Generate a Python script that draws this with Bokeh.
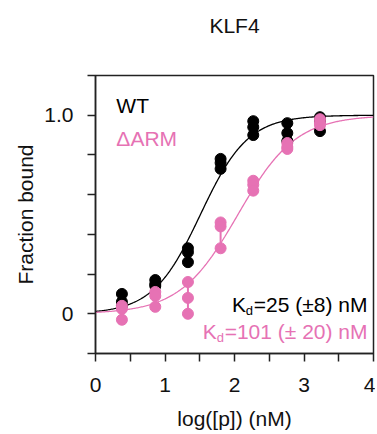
import numpy as np
from bokeh.plotting import figure
from bokeh.models import FixedTicker, Label, Range1d, Title
from bokeh.embed import file_html
from bokeh.resources import INLINE

# ---------------- data ----------------
log_conc = [0.38, 0.86, 1.33, 1.80, 2.27, 2.76, 3.23]

wt_rep1 = [0.10, 0.17, 0.33, 0.78, 0.97, 0.96, 0.99]
wt_rep2 = [0.06, 0.15, 0.31, 0.76, 0.94, 0.91, 0.97]
wt_rep3 = [0.04, 0.14, 0.26, 0.73, 0.90, 0.87, 0.92]

arm_rep1 = [0.04, 0.11, 0.16, 0.46, 0.67, 0.86, 0.98]
arm_rep2 = [0.025, 0.09, 0.08, 0.44, 0.65, 0.84, 0.96]
arm_rep3 = [-0.03, 0.035, 0.00, 0.33, 0.62, 0.83, 0.95]

# fitted binding-curve parameters (log10 of half-point in nM, Hill slope)
wt_half, wt_hill = 1.51, 1.27
arm_half, arm_hill = 2.05, 1.04

x_ticks = [0, 0.5, 1, 1.5, 2, 2.5, 3, 3.5, 4]
x_tick_labels = {0: "0", 1: "1", 2: "2", 3: "3", 4: "4"}
y_ticks = [-0.2, 0, 0.2, 0.4, 0.6, 0.8, 1.0, 1.2]
y_tick_labels = {0: "0", 1: "1.0"}

title_text = "KLF4"
wt_name = "WT"
arm_name = "\u0394ARM"
wt_kd_text = "=25 (\u00b18) nM"
arm_kd_text = "=101 (\u00b1 20) nM"

# ---------------- style ----------------
BLACK = "#000000"
PINK = "#e672b4"
AX = "#222222"
TXT = "#111111"
FONT = "Liberation Sans"
FS = "21px"

p = figure(width=375, height=434, output_backend="svg", toolbar_location=None,
           x_range=Range1d(0, 4), y_range=Range1d(-0.2, 1.2),
           min_border_left=95, min_border_right=2, min_border_top=75,
           min_border_bottom=81)
p.title_location = None

# spacer between frame and title, then the title itself (further out)
p.add_layout(Title(text=" ", text_font_size="10px", standoff=26), "above")
p.add_layout(Title(text=title_text, align="center", text_font=FONT, text_font_size=FS,
                   text_font_style="normal", text_color=TXT, standoff=0,
                   vertical_align="bottom"), "above")

p.xgrid.visible = False
p.ygrid.visible = False
p.outline_line_color = AX
p.outline_line_width = 1.5
p.background_fill_color = "white"
p.border_fill_color = "white"

for ax in (p.xaxis[0], p.yaxis[0]):
    ax.axis_line_color = AX
    ax.axis_line_width = 1.5
    ax.major_tick_line_color = AX
    ax.major_tick_line_width = 1.5
    ax.major_tick_out = 8
    ax.major_tick_in = 0
    ax.minor_tick_line_color = None
    ax.major_label_text_font = FONT
    ax.major_label_text_font_size = FS
    ax.major_label_text_color = TXT
    ax.axis_label_text_font = FONT
    ax.axis_label_text_font_size = FS
    ax.axis_label_text_font_style = "normal"
    ax.axis_label_text_color = TXT

p.xaxis.ticker = FixedTicker(ticks=x_ticks)
p.xaxis.major_label_overrides = {t: x_tick_labels.get(t, "") for t in x_ticks}
p.xaxis.axis_label = "log([p]) (nM)"
p.xaxis.major_label_standoff = 16
p.xaxis.axis_label_standoff = 12

p.yaxis.ticker = FixedTicker(ticks=y_ticks)
p.yaxis.major_label_overrides = {t: y_tick_labels.get(t, "") for t in y_ticks}
p.yaxis.axis_label = "Fraction bound"
p.yaxis.major_label_standoff = 14
p.yaxis.axis_label_standoff = 4

# fit curves
xs = np.linspace(0, 4, 300)
wt_fit = 1.0 / (1.0 + 10 ** (wt_hill * (wt_half - xs)))
arm_fit = 1.0 / (1.0 + 10 ** (arm_hill * (arm_half - xs)))
p.line(xs, wt_fit, line_color=BLACK, line_width=1.3)
p.line(xs, arm_fit, line_color=PINK, line_width=1.3)

# replicate ranges (vertical connectors)
wt_all = np.array([wt_rep1, wt_rep2, wt_rep3])
arm_all = np.array([arm_rep1, arm_rep2, arm_rep3])
p.segment(x0=log_conc, y0=wt_all.min(axis=0), x1=log_conc, y1=wt_all.max(axis=0),
          line_color=BLACK, line_width=2)
for rep in (wt_rep1, wt_rep2, wt_rep3):
    p.scatter(log_conc, rep, size=11, fill_color=BLACK, line_color=BLACK)

p.segment(x0=log_conc, y0=arm_all.min(axis=0), x1=log_conc, y1=arm_all.max(axis=0),
          line_color=PINK, line_width=2)
for rep in (arm_rep1, arm_rep2, arm_rep3):
    p.scatter(log_conc, rep, size=11, fill_color=PINK, line_color=PINK)

# legend-like labels
p.add_layout(Label(x=0.30, y=1.049, text=wt_name, text_font=FONT, text_font_size=FS,
                   text_color=BLACK, text_baseline="alphabetic"))
p.add_layout(Label(x=0.30, y=0.884, text=arm_name, text_font=FONT, text_font_size=FS,
                   text_color=PINK, text_baseline="alphabetic"))

# Kd annotations with subscript d
def kd_label(main, y, color, main_w):
    p.add_layout(Label(x=4, y=y, x_offset=-6, text=main, text_font=FONT,
                       text_font_size=FS, text_color=color, text_align="right",
                       text_baseline="alphabetic"))
    p.add_layout(Label(x=4, y=y - 0.03, x_offset=-6 - main_w, text="d", text_font=FONT,
                       text_font_size="13px", text_color=color, text_align="right",
                       text_baseline="alphabetic"))
    p.add_layout(Label(x=4, y=y, x_offset=-6 - main_w - 7.2, text="K", text_font=FONT,
                       text_font_size=FS, text_color=color, text_align="right",
                       text_baseline="alphabetic"))

kd_label(wt_kd_text, 0.049, BLACK, 114.4)
kd_label(arm_kd_text, -0.091, PINK, 143.6)

open("out.html", "w").write(file_html(p, INLINE))
